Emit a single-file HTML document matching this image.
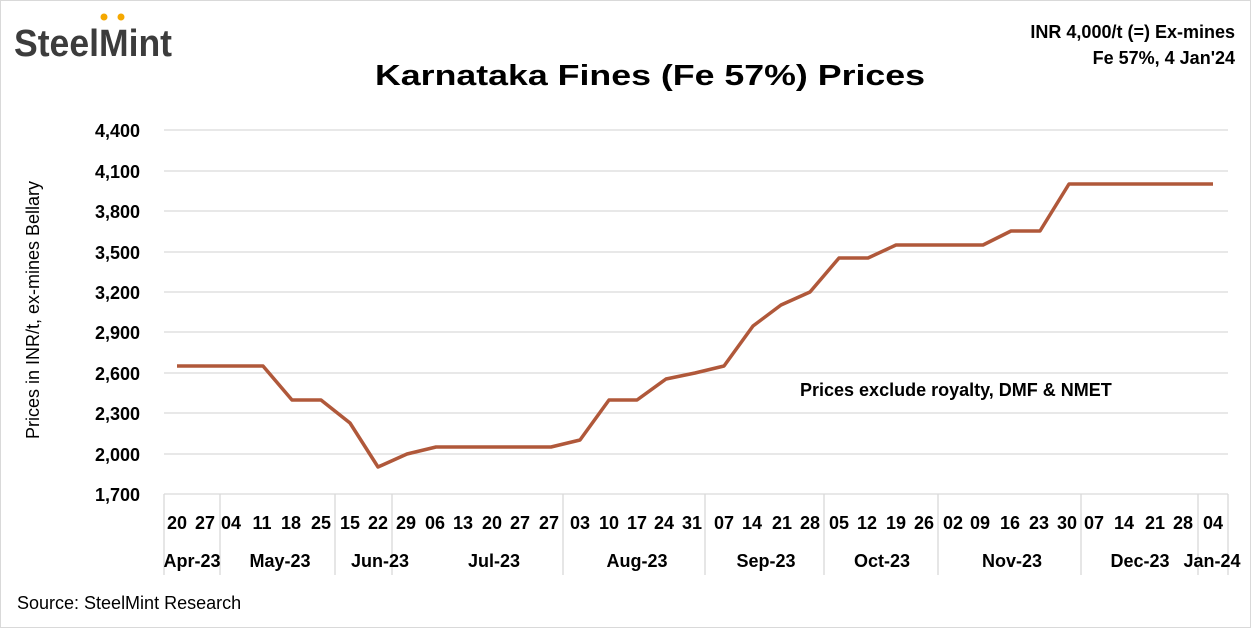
<!DOCTYPE html>
<html><head><meta charset="utf-8"><style>
html,body{margin:0;padding:0;background:#fff}
svg text{font-family:"Liberation Sans",sans-serif}
</style></head><body>
<svg width="1251" height="628" viewBox="0 0 1251 628" xmlns="http://www.w3.org/2000/svg">
<rect x="0.5" y="0.5" width="1250" height="627" fill="#fff" stroke="#d9d9d9"/>
<text x="14" y="56" font-size="38" font-weight="bold" fill="#3c3c3c" textLength="158" lengthAdjust="spacingAndGlyphs">SteelMint</text>
<circle cx="104" cy="17" r="3.5" fill="#f5a800"/><circle cx="121" cy="17" r="3.5" fill="#f5a800"/>
<text x="650" y="85" font-size="29" font-weight="bold" text-anchor="middle" fill="#000" textLength="550" lengthAdjust="spacingAndGlyphs">Karnataka Fines (Fe 57%) Prices</text>
<text x="1235" y="38" font-size="18" font-weight="bold" text-anchor="end">INR 4,000/t (=) Ex-mines</text>
<text x="1235" y="64" font-size="18" font-weight="bold" text-anchor="end">Fe 57%, 4 Jan'24</text>
<g stroke="#d9d9d9" stroke-width="1.3">
<line x1="164" x2="1228" y1="130" y2="130"/><line x1="164" x2="1228" y1="171" y2="171"/><line x1="164" x2="1228" y1="211" y2="211"/><line x1="164" x2="1228" y1="252" y2="252"/><line x1="164" x2="1228" y1="292" y2="292"/><line x1="164" x2="1228" y1="332" y2="332"/><line x1="164" x2="1228" y1="373" y2="373"/><line x1="164" x2="1228" y1="413" y2="413"/><line x1="164" x2="1228" y1="454" y2="454"/><line x1="164" x2="1228" y1="494" y2="494"/>
<line x1="164" x2="164" y1="494" y2="575"/><line x1="220" x2="220" y1="494" y2="575"/><line x1="335" x2="335" y1="494" y2="575"/><line x1="392" x2="392" y1="494" y2="575"/><line x1="563" x2="563" y1="494" y2="575"/><line x1="705" x2="705" y1="494" y2="575"/><line x1="824" x2="824" y1="494" y2="575"/><line x1="938" x2="938" y1="494" y2="575"/><line x1="1081" x2="1081" y1="494" y2="575"/><line x1="1198" x2="1198" y1="494" y2="575"/><line x1="1228" x2="1228" y1="494" y2="575"/>
</g>
<g font-size="18" font-weight="bold" text-anchor="end">
<text x="140" y="137">4,400</text><text x="140" y="178">4,100</text><text x="140" y="218">3,800</text><text x="140" y="259">3,500</text><text x="140" y="299">3,200</text><text x="140" y="339">2,900</text><text x="140" y="380">2,600</text><text x="140" y="420">2,300</text><text x="140" y="461">2,000</text><text x="140" y="501">1,700</text>
</g>
<text transform="translate(39,310) rotate(-90)" font-size="18" text-anchor="middle">Prices in INR/t, ex-mines Bellary</text>
<polyline fill="none" stroke="#b0583a" stroke-width="3.5" stroke-linejoin="round" points="177,366 206,366 235,366 263,366 292,400 321,400 350,423 378,467 407,454 436,447 465,447 494,447 522,447 551,447 580,440 609,400 637,400 666,379 695,373 724,366 753,326 781,305 810,292 839,258 868,258 896,245 925,245 954,245 983,245 1011,231 1040,231 1069,184 1098,184 1127,184 1155,184 1184,184 1213,184"/>
<text x="800" y="396" font-size="18" font-weight="bold">Prices exclude royalty, DMF &amp; NMET</text>
<g font-size="18" font-weight="bold" text-anchor="middle">
<text x="177" y="529">20</text><text x="205" y="529">27</text><text x="231" y="529">04</text><text x="262" y="529">11</text><text x="291" y="529">18</text><text x="321" y="529">25</text><text x="350" y="529">15</text><text x="378" y="529">22</text><text x="406" y="529">29</text><text x="435" y="529">06</text><text x="463" y="529">13</text><text x="492" y="529">20</text><text x="520" y="529">27</text><text x="549" y="529">27</text><text x="580" y="529">03</text><text x="609" y="529">10</text><text x="637" y="529">17</text><text x="664" y="529">24</text><text x="692" y="529">31</text><text x="724" y="529">07</text><text x="752" y="529">14</text><text x="782" y="529">21</text><text x="810" y="529">28</text><text x="839" y="529">05</text><text x="867" y="529">12</text><text x="896" y="529">19</text><text x="924" y="529">26</text><text x="953" y="529">02</text><text x="980" y="529">09</text><text x="1010" y="529">16</text><text x="1039" y="529">23</text><text x="1067" y="529">30</text><text x="1094" y="529">07</text><text x="1124" y="529">14</text><text x="1155" y="529">21</text><text x="1183" y="529">28</text><text x="1213" y="529">04</text>
<text x="192" y="567">Apr-23</text><text x="280" y="567">May-23</text><text x="380" y="567">Jun-23</text><text x="494" y="567">Jul-23</text><text x="637" y="567">Aug-23</text><text x="766" y="567">Sep-23</text><text x="882" y="567">Oct-23</text><text x="1012" y="567">Nov-23</text><text x="1140" y="567">Dec-23</text><text x="1212" y="567">Jan-24</text>
</g>
<text x="17" y="609" font-size="18">Source: SteelMint Research</text>
</svg>
</body></html>
